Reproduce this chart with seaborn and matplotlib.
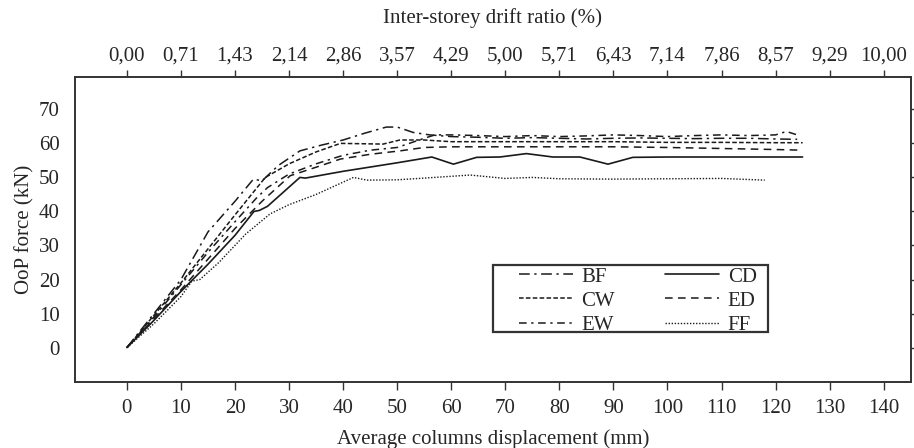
import matplotlib
matplotlib.use("Agg")
import matplotlib.pyplot as plt
from matplotlib.patches import Rectangle
import seaborn as sns
import pandas as pd

# ---------------- data ----------------
bf_x = [0, 5, 10, 15, 20, 23.4, 25, 28, 32, 36, 40, 44, 48, 50, 53, 56, 60, 65, 70, 75, 80, 85, 90, 95, 100, 105, 110, 115, 120, 124]
bf_y = [0, 10, 20, 34, 43, 49.5, 49, 53.5, 57.8, 59.5, 61, 63, 64.8, 64.8, 63.2, 62.5, 62, 61.8, 61.5, 61.7, 61.5, 61.3, 61.5, 61.6, 61.5, 61.4, 61.5, 61.5, 61.3, 61.2]

cw_x = [0, 5, 10, 15, 20, 25.6, 30, 35, 39.5, 47.4, 50.5, 55, 60, 70, 80, 90, 100, 110, 120, 125]
cw_y = [0, 9.5, 19, 29, 39, 50, 54, 57.5, 60, 59.8, 61, 61, 60.5, 60.5, 60.5, 60.5, 60.3, 60.3, 60.2, 60.2]

ew_x = [0, 5, 10, 15, 20, 24, 26, 30, 35, 40, 45, 50, 55, 57, 60, 65, 70, 75, 80, 85, 90, 95, 100, 105, 110, 115, 120, 122, 124]
ew_y = [0, 9, 18.5, 28, 37, 44, 47, 51, 54, 56.5, 58, 58.8, 61.5, 62.5, 62.5, 62.3, 62, 62.3, 62, 62.2, 62.5, 62.3, 62, 62.3, 62.5, 62.3, 62.5, 63.5, 62.5]

cd_x = [0, 5, 10, 15, 20, 22, 23.5, 24.5, 26, 32, 33, 40, 50, 56.4, 60.4, 64.7, 69, 73.9, 78.8, 83.8, 89, 93.6, 100, 110, 125]
cd_y = [0, 8, 16.5, 24.5, 33, 37, 40, 40.3, 41.5, 50, 49.8, 51.8, 54.3, 56, 53.9, 55.9, 56, 57, 56, 56, 53.9, 55.9, 56, 56, 56]

ed_x = [0, 5, 10, 15, 20, 25, 30.2, 35, 39.5, 45, 50.5, 55, 60, 70, 80, 90, 100, 110, 120, 125]
ed_y = [0, 8.5, 17, 26, 35, 43, 50.5, 53, 55.4, 56.8, 57.8, 58.8, 59, 59, 59, 59, 58.8, 58.5, 58.2, 58]

ff_x = [0, 5, 10, 12, 13.5, 17, 22, 26.5, 30, 35, 41.9, 44.4, 50, 55, 63.5, 70, 75, 80, 90, 100, 110, 118]
ff_y = [0, 7, 15, 19.5, 20, 25, 33.4, 39.3, 42, 45, 50, 49.2, 49.3, 49.8, 50.7, 49.7, 50, 49.6, 49.5, 49.6, 49.7, 49.2]

series_names = ["BF", "CW", "EW", "CD", "ED", "FF"]
bottom_ticks = [0, 10, 20, 30, 40, 50, 60, 70, 80, 90, 100, 110, 120, 130, 140]
top_labels = ["0,00", "0,71", "1,43", "2,14", "2,86", "3,57", "4,29", "5,00",
              "5,71", "6,43", "7,14", "7,86", "8,57", "9,29", "10,00"]
y_ticks = [0, 10, 20, 30, 40, 50, 60, 70]

# --------------- plot ----------------
sns.set_theme(style="white")
plt.rcParams["font.family"] = ["Liberation Serif", "DejaVu Serif"]
plt.rcParams["font.size"] = 15

W, H = 914, 448
fig = plt.figure(figsize=(W / 100, H / 100), dpi=100)
ax = fig.add_axes([0.0821, 0.1467, 0.9143, 0.6821])

data = {
    "BF": (bf_x, bf_y),
    "CW": (cw_x, cw_y),
    "EW": (ew_x, ew_y),
    "CD": (cd_x, cd_y),
    "ED": (ed_x, ed_y),
    "FF": (ff_x, ff_y),
}
styles = {
    "BF": dict(linestyle=(0, (7, 3, 1.5, 3)), linewidth=1.1),
    "CW": dict(linestyle=(0, (3, 1.5)), linewidth=1.1),
    "EW": dict(linestyle=(0, (5, 3, 1.5, 3)), linewidth=1.1),
    "CD": dict(linestyle="-", linewidth=1.2),
    "ED": dict(linestyle=(0, (5, 3.5)), linewidth=1.1),
    "FF": dict(linestyle=(0, (1, 1.2)), linewidth=1.0),
}
handles = []
for name in series_names:
    xs, ys = data[name]
    df = pd.DataFrame({"x": xs, "y": ys})
    sns.lineplot(data=df, x="x", y="y", ax=ax, color="#1a1a1a",
                 estimator=None, sort=False, label=name, legend=False,
                 **styles[name])
    handles.append(ax.lines[-1])

ax.set_xlim(-9.6, 145)
ax.set_ylim(-10.2, 79.6)
ax.set_xticks(bottom_ticks)
ax.set_yticks(y_ticks)
ax.set_xlabel("Average columns displacement (mm)", fontsize=15, labelpad=8)
ax.set_ylabel("OoP force (kN)", fontsize=15, labelpad=3)
ax.tick_params(axis="both", direction="out", length=6, width=1.0,
               color="#333333", labelsize=15, pad=6)
ax.tick_params(axis="y", right=True, pad=5)

ax2 = ax.twiny()
ax2.set_xlim(ax.get_xlim())
ax2.set_xticks(bottom_ticks)
ax2.set_xticklabels(top_labels)
ax2.set_xlabel("Inter-storey drift ratio (%)", fontsize=15, labelpad=17)
ax2.tick_params(axis="x", direction="out", length=5, width=1.0,
                color="#333333", labelsize=15, pad=3)

for a in (ax, ax2):
    for s in a.spines.values():
        s.set_color("#333333")
        s.set_linewidth(1.2)
        s.set_visible(True)

# legend box (pixel frame converted to axes fraction)
ax_l, ax_b, ax_w, ax_h = 75, 382.3, 835.7, 305.6
def to_ax(px, py):
    return (px - ax_l) / ax_w, (ax_b - py) / ax_h

bx0, by0 = to_ax(492.7, 332)
bx1, by1 = to_ax(768, 265)
ax.add_patch(Rectangle((bx0, by0), bx1 - bx0, by1 - by0, transform=ax.transAxes,
                       fill=False, edgecolor="#333333", linewidth=1.6, zorder=5))

lx, ly = to_ax(519, 267)
leg = ax.legend(handles=handles, labels=series_names, ncol=2,
                loc="upper left", bbox_to_anchor=(lx, ly),
                frameon=False, fontsize=15, borderpad=0.0, borderaxespad=0.0,
                handlelength=2.6, handletextpad=0.4, labelspacing=0.22,
                columnspacing=2.4)

fig.savefig("out.png", dpi=100)
